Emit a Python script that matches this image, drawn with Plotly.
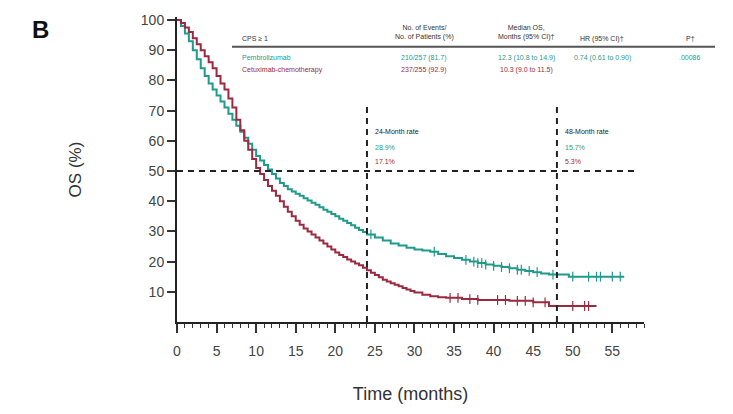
import numpy as np
import plotly.graph_objects as go

# ---------------- data ----------------
pem_t = [0, 0.5, 1, 1.5, 2, 2.5, 3, 3.5, 4, 4.5, 5, 5.5, 6, 6.5, 7, 7.5, 8, 8.5, 9, 9.5, 10, 10.5,
         11, 11.5, 12, 12.5, 13, 13.5, 14, 14.5, 15, 15.5, 16, 16.5, 17, 17.5, 18, 18.5, 19, 19.5,
         20, 20.5, 21, 21.5, 22, 22.5, 23, 23.5, 24, 25, 26, 27, 28, 29, 30, 31, 32, 33, 34, 35,
         36, 37, 38, 39, 40, 41, 42, 43, 44, 45, 46, 47, 49.5, 56.5]
pem_s = [100, 98, 95.5, 93, 90, 87, 84, 81.5, 79, 77, 75, 73, 71, 69, 67, 65, 63, 61, 59, 57, 55,
         53.5, 52, 50.5, 49, 47.5, 46, 45, 44, 43.2, 42.5, 41.8, 41, 40.2, 39.5, 38.8, 38, 37.2,
         36.5, 35.8, 35, 34.2, 33.5, 32.8, 32, 31.2, 30.5, 29.8, 29, 28, 27, 26, 25.3, 24.6, 24,
         23.7, 23.3, 22.5, 21.8, 21.2, 20.6, 20, 19.5, 19, 18.6, 18.2, 17.8, 17.3, 16.9, 16.5,
         16.1, 15.7, 15.0, 15.0]
cet_t = [0, 0.5, 1, 1.5, 2, 2.5, 3, 3.5, 4, 4.5, 5, 5.5, 6, 6.5, 7, 7.5, 8, 8.5, 9, 9.5, 10, 10.5,
         11, 11.5, 12, 12.5, 13, 13.5, 14, 14.5, 15, 15.5, 16, 16.5, 17, 17.5, 18, 18.5, 19, 19.5,
         20, 20.5, 21, 21.5, 22, 22.5, 23, 23.5, 24, 24.5, 25, 25.5, 26, 26.5, 27, 27.5, 28, 28.5,
         29, 29.5, 30, 31, 32, 33, 34, 36, 38, 42, 45, 47, 53]
cet_s = [100, 99, 97.5, 96, 94, 92, 90, 88, 86, 84, 81.5, 79, 77, 74, 71, 67, 63.5, 60, 57, 54, 51,
         49, 47, 45, 43.5, 41.8, 40, 38.2, 36.5, 35, 33.5, 32.2, 31, 30, 29, 28, 27, 26, 25, 24,
         23, 22.2, 21.5, 20.7, 20, 19.4, 18.8, 18, 17.1, 16.3, 15.6, 14.8, 14, 13.4, 12.8, 12.3,
         11.8, 11.3, 10.8, 10.3, 9.8, 9, 8.5, 8.2, 8, 7.6, 7.3, 7, 6.5, 5.3, 5.3]
pem_cens = [24.5, 32.5, 36.5, 37.5, 38, 38.5, 39, 40, 41, 42, 43, 43.5, 44.5, 45.5, 47.5, 50,
            52, 53, 53.5, 55, 56]
cet_cens = [34.5, 35.5, 37, 38, 40.5, 41.5, 43, 44, 45, 46.5, 50, 51.5, 52]

x_ticks = [0, 5, 10, 15, 20, 25, 30, 35, 40, 45, 50, 55]
y_ticks = [10, 20, 30, 40, 50, 60, 70, 80, 90, 100]
landmarks = [24, 48]
landmark_labels = ["24-Month rate", "48-Month rate"]
pem_rates = ["28.9%", "15.7%"]
cet_rates = ["17.1%", "5.3%"]

table_header = ["CPS \u2265 1", "No. of Events/<br>No. of Patients (%)",
                "Median OS,<br>Months (95% CI)\u2020", "HR (95% CI)\u2020", "P\u2020"]
pem_row = ["Pembrolizumab", "210/257 (81.7)", "12.3 (10.8 to 14.9)", "0.74 (0.61 to 0.90)", ".00086"]
cet_row = ["Cetuximab-chemotherapy", "237/255 (92.9)", "10.3 (9.0 to 11.5)", "", ""]

TEAL = "#1f9a8b"
RED = "#9b2a40"


def step_val(ts, ss, t):
    i = np.searchsorted(ts, t, side="right") - 1
    return ss[max(i, 0)]


fig = go.Figure()
fig.add_trace(go.Scatter(x=pem_t, y=pem_s, mode="lines", line=dict(color=TEAL, width=2, shape="hv"),
                         showlegend=False))
fig.add_trace(go.Scatter(x=cet_t, y=cet_s, mode="lines", line=dict(color=RED, width=2, shape="hv"),
                         showlegend=False))
fig.add_trace(go.Scatter(x=pem_cens, y=[step_val(pem_t, pem_s, t) for t in pem_cens], mode="markers",
                         marker=dict(symbol="line-ns", size=7, line=dict(color=TEAL, width=1.2)),
                         showlegend=False))
fig.add_trace(go.Scatter(x=cet_cens, y=[step_val(cet_t, cet_s, t) for t in cet_cens], mode="markers",
                         marker=dict(symbol="line-ns", size=7, line=dict(color=RED, width=1.2)),
                         showlegend=False))

# reference lines
fig.add_trace(go.Scatter(x=[0, 58], y=[50, 50], mode="lines",
                         line=dict(color="#222", width=2, dash="6px,5px"), showlegend=False))
for lm in landmarks:
    fig.add_trace(go.Scatter(x=[lm, lm], y=[0, 72], mode="lines",
                             line=dict(color="#222", width=2, dash="6px,5px"), showlegend=False))

# pixel helpers for layout (plot area: left 177, bottom 322, width 467, height 307)
L, BOT, W, H = 177, 322, 467, 307


def px(p):
    return (p - L) / W


def py(p):
    return (BOT - p) / H


ann = []
sm = dict(family="Liberation Sans", size=7)
# landmark annotations
for lm, lab, pr, cr in zip(landmarks, landmark_labels, pem_rates, cet_rates):
    ann.append(dict(x=lm, y=py(130), xref="x", yref="paper", text=lab, showarrow=False, xanchor="left",
                    xshift=6, font=dict(sm, color="#222")))
    ann.append(dict(x=lm, y=py(146), xref="x", yref="paper", text=pr, showarrow=False, xanchor="left",
                    xshift=6, font=dict(sm, color=TEAL)))
    ann.append(dict(x=lm, y=py(160), xref="x", yref="paper", text=cr, showarrow=False, xanchor="left",
                    xshift=6, font=dict(sm, color=RED)))

# table
col_x = [240, 424, 526, 602, 690]
col_anchor = ["left", "center", "center", "center", "center"]
head_y = [37, 31, 31, 37, 37]
for txt, cx, an, hy in zip(table_header, col_x, col_anchor, head_y):
    ann.append(dict(x=px(cx), y=py(hy), xref="paper", yref="paper", text=txt, showarrow=False,
                    xanchor=an, yanchor="middle", font=dict(sm, color="#333")))
for row, ry, colr in [(pem_row, 56, TEAL), (cet_row, 68, RED)]:
    for txt, cx, an in zip(row, col_x, col_anchor):
        if txt:
            ann.append(dict(x=px(cx), y=py(ry), xref="paper", yref="paper", text=txt, showarrow=False,
                            xanchor=an, yanchor="middle", font=dict(sm, color=colr)))

ann.append(dict(x=px(40), y=py(28), xref="paper", yref="paper", text="<b>B</b>", showarrow=False,
                xanchor="center", yanchor="middle", font=dict(family="Liberation Sans", size=24, color="#111")))

shapes = [dict(type="line", xref="paper", yref="paper", x0=px(232), x1=px(715), y0=py(45), y1=py(45),
               line=dict(color="#555", width=2))]

fig.update_layout(
    width=733, height=414,
    margin=dict(l=L, r=733 - L - W, t=BOT - H, b=414 - BOT),
    plot_bgcolor="white", paper_bgcolor="white",
    annotations=ann, shapes=shapes,
    font=dict(family="Liberation Sans", color="#333"),
    xaxis=dict(range=[0, 59], tickvals=x_ticks, ticks="outside", ticklen=9, tickwidth=1.5,
               tickcolor="#333", showline=True, linecolor="#222", linewidth=2, showgrid=False,
               zeroline=False, tickfont=dict(size=14, color="#444"), ticklabelstandoff=6,
               minor=dict(dtick=1, ticks="outside", ticklen=4, tickcolor="#333", tickwidth=1),
               title=dict(text="Time (months)", font=dict(size=18, color="#333"), standoff=30)),
    yaxis=dict(range=[0, 101], tickvals=y_ticks, ticks="outside", ticklen=8, tickwidth=1.5,
               tickcolor="#333", showline=True, linecolor="#222", linewidth=2, showgrid=False,
               zeroline=False, tickfont=dict(size=14, color="#444"),
               title=dict(text="OS (%)", font=dict(size=17, color="#333"), standoff=55)),
)

fig.write_html("out.html")
